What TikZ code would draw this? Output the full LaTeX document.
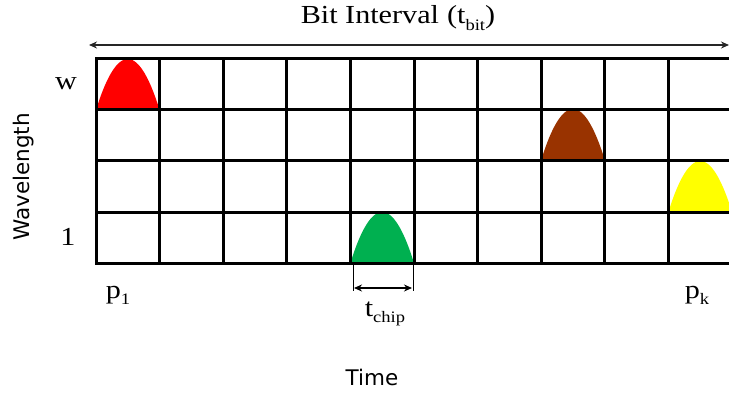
\documentclass[tikz,border=0pt]{standalone}
\usepackage{fontspec}
\usepackage{graphicx}
\setmainfont{Liberation Serif}
\newfontfamily\labelsans{DejaVu Sans}
\usetikzlibrary{arrows.meta}
% lowered, smaller text used for the subscripts
\newcommand\lowtxt[1]{\raisebox{-0.26em}{\fontsize{16}{16}\selectfont #1}}
% slightly widened serif lettering
\newcommand\widetxt[1]{\scalebox{1.16}[1]{#1}}

\definecolor{pulsered}{RGB}{255,0,0}
\definecolor{pulsebrown}{RGB}{153,51,0}
\definecolor{pulsegreen}{RGB}{0,176,80}
\definecolor{pulseyellow}{RGB}{255,255,0}

\tikzset{
  serif/.style={font=\fontsize{26}{26}\selectfont, inner sep=0pt},
  sans/.style={font=\labelsans\fontsize{21.5}{21.5}\selectfont, inner sep=0pt},
  gridline/.style={line width=3pt, black, line cap=rect},
  spanarrow/.style={{Stealth[length=8pt,width=7pt]}-{Stealth[length=8pt,width=7pt]}, line width=1.4pt, black!85},
  chiparrow/.style={{Stealth[length=8pt,width=7pt]}-{Stealth[length=8pt,width=7pt]}, line width=1.4pt, black},
  tick/.style={line width=0.9pt, black},
  pulse/.pic={\path[pic actions] plot[domain=0:1,samples=60] ({\x*63.6},{-51*4*\x*(1-\x)}) -- cycle;}
}

\begin{document}
\begin{tikzpicture}[x=1pt,y=-1pt]
\useasboundingbox (0,0) rectangle (729,396);

% optical pulses, one per chip slot
\pic[fill=pulsered]    at (96,110)     {pulse};
\pic[fill=pulsebrown]  at (541.2,160)  {pulse};
\pic[fill=pulsegreen]  at (350.4,263)  {pulse};
\pic[fill=pulseyellow] at (668.4,212)  {pulse};

% time/wavelength grid
\foreach \r in {59,110,160,212,263}
  \draw[gridline] (96,\r) -- (735,\r);
\foreach \c in {0,...,10}
  \draw[gridline] ({96+63.6*\c},59) -- ({96+63.6*\c},263);

% bit interval span
\coordinate (spanL) at (89,45);
\coordinate (spanR) at (729,45);
\draw[spanarrow] (spanL) -- (spanR);
\node[serif, anchor=base] (bitlabel) at (398,24) {\widetxt{Bit Interval\hspace{7pt}(t\lowtxt{bit})}};

% chip duration marker
\coordinate (tickLtop) at (353,263);
\coordinate (tickLbot) at (353,291);
\coordinate (tickRtop) at (413,263);
\coordinate (tickRbot) at (413,291);
\coordinate (chipL) at (354,288);
\coordinate (chipR) at (412,288);
\draw[tick] (tickLtop) -- (tickLbot);
\draw[tick] (tickRtop) -- (tickRbot);
\draw[chiparrow] (chipL) -- (chipR);
\node[serif, anchor=base] (tchip) at (385,316) {\widetxt{t\lowtxt{chip}}};

% axis labels
\node[serif, anchor=base] (wtop) at (66,90) {\widetxt{w}};
\node[serif, anchor=base] (wone) at (68,245) {\widetxt{1}};
\node[sans, rotate=90] (wlabel) at (24,177) {Wavelength};
\node[serif, anchor=base] (pone) at (118,298) {\widetxt{p\lowtxt{1}}};
\node[serif, anchor=base] (pk) at (697,298) {\widetxt{p\lowtxt{k}}};
\node[sans, anchor=base] (timelabel) at (372,385) {Time};
\end{tikzpicture}
\end{document}
